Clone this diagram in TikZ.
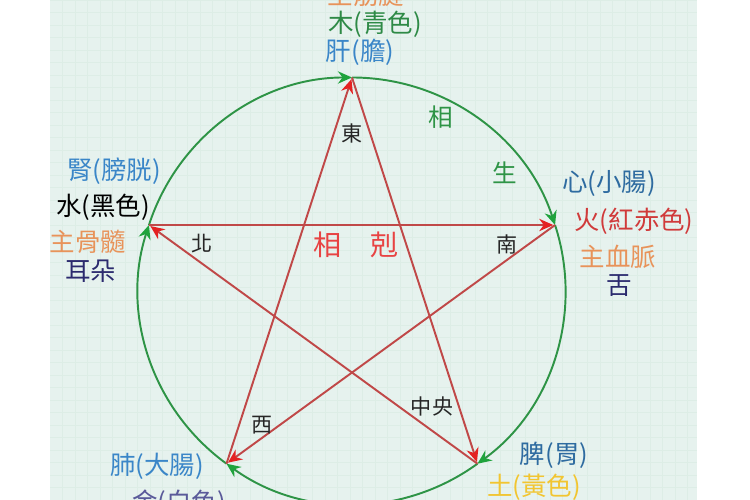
\documentclass[tikz,border=0pt]{standalone}
\usepackage{fontspec}
\setmainfont{Noto Sans CJK TC}
\usetikzlibrary{arrows.meta}
\usetikzlibrary{calc}

\definecolor{panel}{HTML}{E6F2EE}
\definecolor{gridc}{HTML}{DDEDE6}
\definecolor{kered}{HTML}{C04848}
\definecolor{kehead}{HTML}{E42222}
\definecolor{shenggreen}{HTML}{2E9446}
\definecolor{shenghead}{HTML}{1FA33C}
\definecolor{organblue}{HTML}{3A86C8}
\definecolor{woodgreen}{HTML}{2E8A46}
\definecolor{mainorange}{HTML}{E8935A}
\definecolor{sensenavy}{HTML}{2B2A6E}
\definecolor{firered}{HTML}{D03A3A}
\definecolor{metalnavy}{HTML}{5A5A9A}
\definecolor{earthyellow}{HTML}{F2C530}

\begin{document}
\begin{tikzpicture}[
    ke/.style={draw=kered, line width=1.1pt, shorten >=1pt,
        -{Stealth[length=8pt,width=7pt,color=kehead]}},
    sheng/.style={draw=shenggreen, line width=1.1pt,
        -{Stealth[length=8pt,width=7pt,color=shenghead]}},
    organ/.style={inner sep=0pt, font=\fontsize{14.5}{16}\selectfont},
    dirlabel/.style={inner sep=0pt, text=black!85, font=\fontsize{12}{14}\selectfont}
]
    % Frame and background
    \clip (0,0) rectangle (15,10);
    \fill[white] (0,0) rectangle (15,10);
    \fill[panel] (1,0) rectangle (13.94,10);
    \draw[gridc, step=0.25, line width=0.25pt] (1,0) grid (13.94,10);

    % Five elements on the circle
    \coordinate (c) at (7.04,4.18);
    \def\rad{4.27}
    \coordinate (wood)  at ($(c)+(90:\rad)$);
    \coordinate (fire)  at ($(c)+(18:\rad)$);
    \coordinate (earth) at ($(c)+(-54:\rad)$);
    \coordinate (metal) at ($(c)+(-126:\rad)$);
    \coordinate (water) at ($(c)+(162:\rad)$);

    % Generating cycle (circle)
    \foreach \a/\s/\e in {wood/90/18, fire/18/-54, earth/-54/-126,
                          metal/-126/-198, water/162/90} {
        \draw[sheng] (\a) arc[start angle=\s, end angle=\e, radius=\rad];
    }

    % Overcoming cycle (star)
    \foreach \a/\b in {wood/earth, earth/water, water/fire, fire/metal, metal/wood} {
        \draw[ke] (\a) -- (\b);
    }

    % Wood
    \node[organ, text=mainorange] (woodmain) at (7.32,10.1) {主筋腱};
    \node[organ, text=woodgreen] (woodname) at (7.5,9.52) {木(青色)};
    \node[organ, text=organblue] (woodorgan) at (7.2,8.96) {肝(膽)};

    % Water
    \node[organ, text=organblue] (waterorgan) at (2.28,6.58) {腎(膀胱)};
    \node[organ, text=black] (watername) at (2.06,5.86) {水(黑色)};
    \node[organ, text=mainorange] (watermain) at (1.76,5.16) {主骨髓};
    \node[organ, text=sensenavy] (watersense) at (1.82,4.58) {耳朵};

    % Fire
    \node[organ, text=organblue!80!black] (fireorgan) at (12.18,6.34) {心(小腸)};
    \node[organ, text=firered] (firename) at (12.68,5.58) {火(紅赤色)};
    \node[organ, text=mainorange] (firemain) at (12.36,4.86) {主血脈};
    \node[organ, text=sensenavy] (firesense) at (12.38,4.28) {舌};

    % Metal
    \node[organ, text=organblue] (metalorgan) at (3.14,0.68) {肺(大腸)};
    \node[organ, text=metalnavy] (metalname) at (3.58,-0.06) {金(白色)};

    % Earth
    \node[organ, text=organblue!80!black] (earthorgan) at (11.08,0.9) {脾(胃)};
    \node[organ, text=earthyellow] (earthname) at (10.68,0.26) {土(黃色)};

    % Directions
    \node[dirlabel] (east) at (7.04,7.32) {東};
    \node[dirlabel] (north) at (4.04,5.12) {北};
    \node[dirlabel] (south) at (10.14,5.1) {南};
    \node[dirlabel] (west) at (5.24,1.5) {西};
    \node[dirlabel] (centre) at (8.64,1.86) {中央};

    % Cycle names
    \node[inner sep=0pt, text=kehead!85, font=\fontsize{16}{18}\selectfont] (kename) at (7.12,5.1) {相　剋};
    \node[inner sep=0pt, text=shenggreen, font=\fontsize{14}{16}\selectfont] (shengA) at (8.82,7.66) {相};
    \node[inner sep=0pt, text=shenggreen, font=\fontsize{14}{16}\selectfont] (shengB) at (10.1,6.54) {生};
\end{tikzpicture}
\end{document}
